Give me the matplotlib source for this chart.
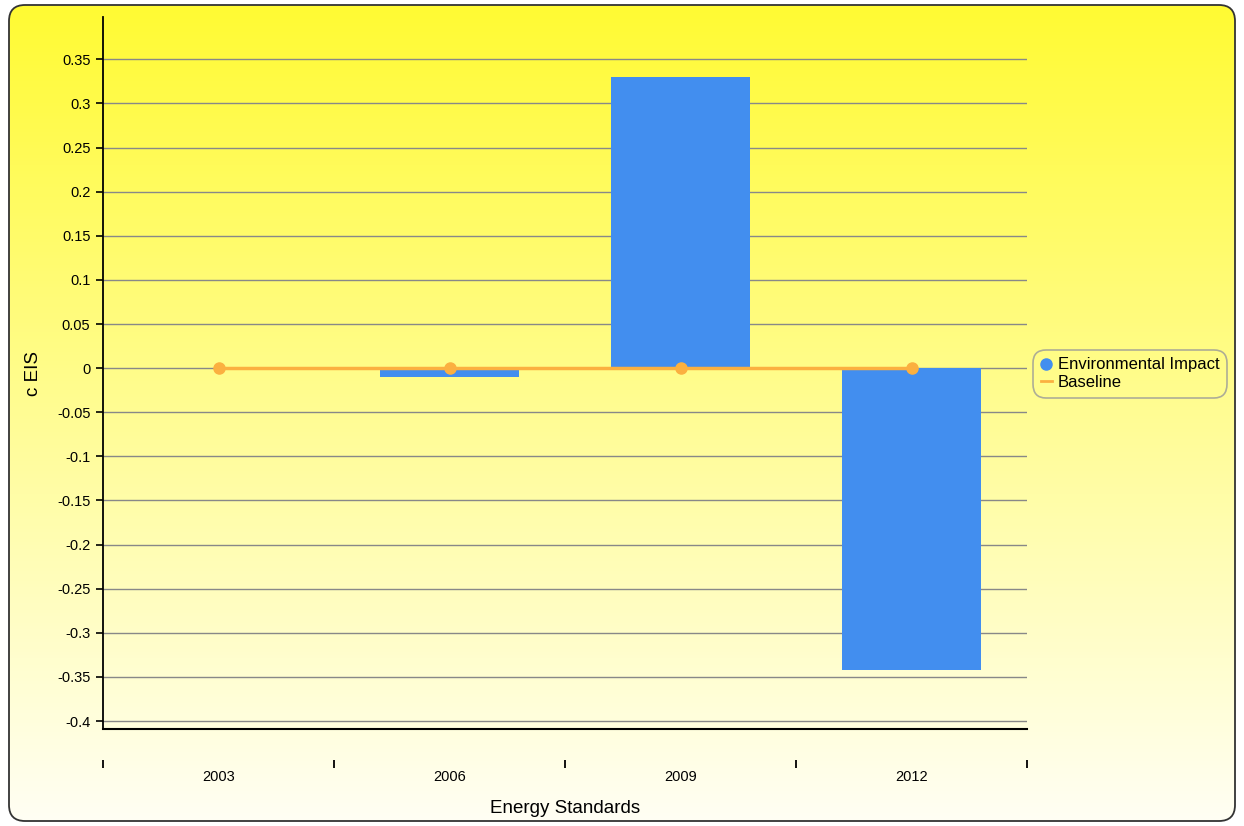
import numpy as np
import matplotlib.pyplot as plt
from matplotlib.patches import FancyBboxPatch
from matplotlib.lines import Line2D

plt.rcParams['font.family'] = ['Liberation Sans', 'DejaVu Sans']
plt.rcParams['axes.unicode_minus'] = False

# data
years = ['2003', '2006', '2009', '2012']
impact = [0.0, -0.01, 0.33, -0.342]
baseline = [0.0, 0.0, 0.0, 0.0]
yticks = [-0.4, -0.35, -0.3, -0.25, -0.2, -0.15, -0.1, -0.05, 0, 0.05, 0.1, 0.15, 0.2, 0.25, 0.3, 0.35]

W, H = 1244, 826
fig = plt.figure(figsize=(W / 100, H / 100), dpi=100)

# background with gradient and rounded border
bg = fig.add_axes([0, 0, 1, 1], zorder=-10)
bg.set_xlim(0, W)
bg.set_ylim(0, H)
bg.axis('off')
grad = np.linspace(0, 1, 256).reshape(-1, 1)
top = np.array([255, 250, 50]) / 255
bot = np.array([255, 255, 245]) / 255
img = bot + (top - bot) * grad
img = img.reshape(256, 1, 3)
im = bg.imshow(img, extent=[0, W, 0, H], origin='lower', aspect='auto')
box = FancyBboxPatch((9, 5), W - 18, H - 10, boxstyle='round,pad=0,rounding_size=16',
                     transform=bg.transData, facecolor='none', edgecolor='#333333', lw=1.3)
bg.add_patch(box)
im.set_clip_path(box)

# main axes
x0, x1 = 103, 1027
yb, yt = 729, 17
ax = fig.add_axes([x0 / W, (H - yb) / H, (x1 - x0) / W, (yb - yt) / H])
ax.patch.set_alpha(0)
x = np.arange(len(years))
ax.bar(x, impact, width=0.6, color='#428eef', zorder=2)
ax.plot(x, baseline, color='#fbb040', lw=2.5, marker='o', markersize=8, zorder=3)

ax.set_xlim(-0.5, len(years) - 0.5)
ax.set_ylim(-0.409, 0.398)
ax.set_yticks(yticks)
ax.set_yticklabels([('%g' % v) for v in yticks])
ax.yaxis.grid(True, color='#888888', lw=1)
ax.set_axisbelow(True)
ax.tick_params(axis='y', length=5, width=1.2, labelsize=10.5, direction='out', pad=4)

for s in ['top', 'right']:
    ax.spines[s].set_visible(False)
ax.spines['left'].set_linewidth(1.3)
ax.spines['bottom'].set_position(('outward', 22.3))
ax.spines['bottom'].set_color('none')
ax.axhline(ax.get_ylim()[0], color='black', lw=1.5, clip_on=False, zorder=4)

ax.set_xticks(np.arange(len(years) + 1) - 0.5)
ax.set_xticklabels([])
ax.set_xticks(x, minor=True)
ax.set_xticklabels(years, minor=True)
ax.tick_params(axis='x', which='major', length=5.5, width=1.3, direction='out', color='black')
ax.tick_params(axis='x', which='minor', length=0, labelsize=10.5, pad=7.5)

ax.set_ylabel('c EIS', fontsize=13.5, labelpad=11)
ax.set_xlabel('Energy Standards', fontsize=13.5, labelpad=11)

handles = [Line2D([], [], marker='o', color='#428eef', linestyle='none', markersize=8),
           Line2D([], [], color='#fbb040', lw=2)]
leg = fig.legend(handles, ['Environmental Impact', 'Baseline'], loc='upper left',
                 bbox_to_anchor=(1033 / W, 1 - 350 / H), fontsize=12, frameon=True,
                 handlelength=0.7, handletextpad=0.35, borderpad=0.45, labelspacing=0.15,
                 borderaxespad=0, fancybox=True)
leg.get_frame().set_facecolor('none')
leg.get_frame().set_edgecolor('#999999')
leg.get_frame().set_linewidth(1.2)
leg.get_frame().set_boxstyle('round', pad=0, rounding_size=0.8)

fig.savefig('out.png', dpi=100)
